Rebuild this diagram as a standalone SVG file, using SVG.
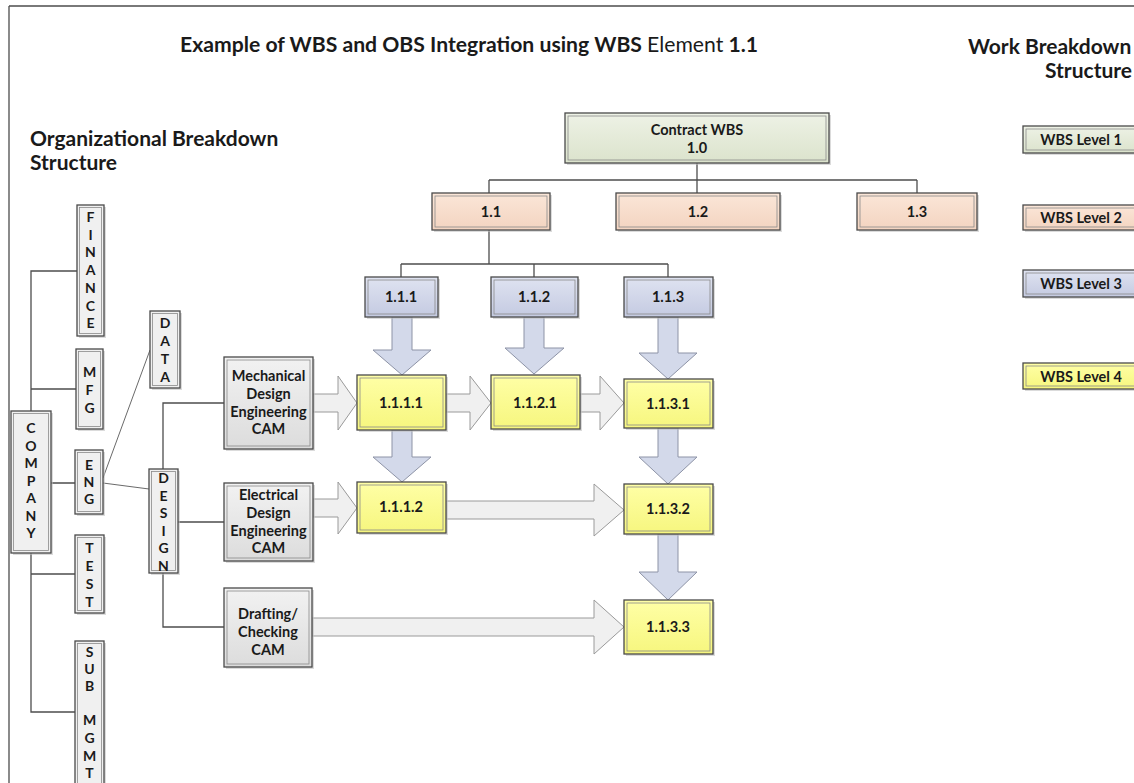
<svg xmlns="http://www.w3.org/2000/svg" width="1134" height="783" viewBox="0 0 1134 783">
<style>
text{font-family:Lato,"Liberation Sans",sans-serif;font-weight:bold;fill:#1a1a1a}
.h{font-size:21px}
.t{font-size:14.5px;text-anchor:middle}
.l{font-size:14px;text-anchor:middle}
.sh{fill:#bdbdbd;opacity:.55}
.bo{stroke:#4a4a4a;stroke-width:1.3}
.bi{fill:none;stroke:#8a8a8a;stroke-width:.8}
.ln{fill:none;stroke:#4d4d4d;stroke-width:1.3}
.thin{fill:none;stroke:#6a6a6a;stroke-width:1}
.da{fill:#d3d9ea;stroke:#8d93a6;stroke-width:1}
.ra{fill:#f0f0f0;stroke:#9a9a9a;stroke-width:1}
.g1{fill:url(#g1)}.g2{fill:url(#g2)}.g3{fill:url(#g3)}.g4{fill:url(#g4)}.gc{fill:url(#gc)}.go{fill:#f0f0f0}
</style>
<defs>
<linearGradient id="g1" x1="0" y1="0" x2="0" y2="1"><stop offset="0" stop-color="#eef2e6"/><stop offset="1" stop-color="#dbe3cc"/></linearGradient>
<linearGradient id="g2" x1="0" y1="0" x2="0" y2="1"><stop offset="0" stop-color="#fbe6d8"/><stop offset="1" stop-color="#f3d4c0"/></linearGradient>
<linearGradient id="g3" x1="0" y1="0" x2="0" y2="1"><stop offset="0" stop-color="#dfe3f1"/><stop offset="1" stop-color="#c4cae1"/></linearGradient>
<linearGradient id="g4" x1="0" y1="0" x2="0" y2="1"><stop offset="0" stop-color="#ffffa6"/><stop offset="1" stop-color="#f6f67e"/></linearGradient>
<linearGradient id="gc" x1="0" y1="0" x2="0" y2="1"><stop offset="0" stop-color="#f2f2f2"/><stop offset="1" stop-color="#dcdcdc"/></linearGradient>
</defs>

<!-- frame -->
<path class="ln" d="M9,6 H1134 M9,6 V783" stroke-width="1.6"/>

<!-- headings -->
<text class="h" x="180" y="52" font-size="19" textLength="578" lengthAdjust="spacingAndGlyphs">Example of WBS and OBS Integration using WBS <tspan font-weight="normal">Element</tspan> 1.1</text>
<text class="h" x="30" y="146">Organizational Breakdown</text>
<text class="h" x="30" y="170">Structure</text>
<text class="h" x="968" y="54">Work Breakdown</text>
<text class="h" x="1045" y="78">Structure</text>

<!-- connectors -->
<g id="connectors">
<path class="ln" d="M697,163 V180 M489,180 H917 M489,180 V193 M697,180 V193 M917,180 V193 M489,230 V264 M401,264 H668 M401,264 V277 M534,264 V277 M668,264 V277"/>
<path class="ln" d="M77,271 H31 V411 M31,389 H76 M51,483 H75 M31,553 V712 H75 M31,574 H75 M163,469 V403 H224 M178,522 H224 M163,573 V627 H224"/>
<path class="thin" d="M103,478 L150,350 M103,483 L149,489"/>
<!-- down arrows -->
<polygon class="da" points="392,317 412,317 412,350 431,350 402,375 373,350 392,350"/>
<polygon class="da" points="524,317 544,317 544,348 564,348 534,374 505,348 524,348"/>
<polygon class="da" points="658,317 678,317 678,353 697,353 668,379 639,353 658,353"/>
<polygon class="da" points="392,430 412,430 412,457 431,457 402,482 373,457 392,457"/>
<polygon class="da" points="658,428 678,428 678,457 697,457 668,484 639,457 658,457"/>
<polygon class="da" points="658,534 678,534 678,572 697,572 668,600 639,572 658,572"/>
<!-- right arrows -->
<polygon class="ra" points="313,394 338,394 338,376 357,403 338,430 338,412 313,412"/>
<polygon class="ra" points="446,394 470,394 470,376 491,403 470,430 470,412 446,412"/>
<polygon class="ra" points="580,394 600,394 600,376 624,403 600,430 600,412 580,412"/>
<polygon class="ra" points="313,499 338,499 338,482 357,508 338,534 338,517 313,517"/>
<polygon class="ra" points="446,501 594,501 594,484 624,510 594,536 594,519 446,519"/>
<polygon class="ra" points="312,618 594,618 594,600 624,627 594,654 594,636 312,636"/>
</g>

<!-- WBS nodes -->
<g id="n10"><rect class="sh" x="567" y="115" width="264" height="50"/><rect class="g1 bo" x="565" y="113" width="264" height="50"/><rect class="bi" x="568" y="116" width="258" height="44"/><text class="t" x="697" y="135">Contract WBS</text><text class="t" x="697" y="153">1.0</text></g>
<g id="n11"><rect class="sh" x="434" y="195" width="118" height="37"/><rect class="g2 bo" x="432" y="193" width="118" height="37"/><rect class="bi" x="435" y="196" width="112" height="31"/><text class="t" x="491" y="217">1.1</text></g>
<g id="n12"><rect class="sh" x="618" y="195" width="164" height="37"/><rect class="g2 bo" x="616" y="193" width="164" height="37"/><rect class="bi" x="619" y="196" width="158" height="31"/><text class="t" x="698" y="217">1.2</text></g>
<g id="n13"><rect class="sh" x="859" y="195" width="120" height="37"/><rect class="g2 bo" x="857" y="193" width="120" height="37"/><rect class="bi" x="860" y="196" width="114" height="31"/><text class="t" x="917" y="217">1.3</text></g>
<g id="n111"><rect class="sh" x="367" y="279" width="73" height="40"/><rect class="g3 bo" x="365" y="277" width="73" height="40"/><rect class="bi" x="368" y="280" width="67" height="34"/><text class="t" x="401" y="302">1.1.1</text></g>
<g id="n112"><rect class="sh" x="493" y="279" width="87" height="40"/><rect class="g3 bo" x="491" y="277" width="87" height="40"/><rect class="bi" x="494" y="280" width="81" height="34"/><text class="t" x="534" y="302">1.1.2</text></g>
<g id="n113"><rect class="sh" x="626" y="279" width="89" height="40"/><rect class="g3 bo" x="624" y="277" width="89" height="40"/><rect class="bi" x="627" y="280" width="83" height="34"/><text class="t" x="668" y="302">1.1.3</text></g>
<g id="n1111"><rect class="sh" x="359" y="377" width="89" height="55"/><rect class="g4 bo" x="357" y="375" width="89" height="55"/><rect class="bi" x="360" y="378" width="83" height="49"/><text class="t" x="401" y="408">1.1.1.1</text></g>
<g id="n1121"><rect class="sh" x="493" y="377" width="89" height="54"/><rect class="g4 bo" x="491" y="375" width="89" height="54"/><rect class="bi" x="494" y="378" width="83" height="48"/><text class="t" x="535" y="408">1.1.2.1</text></g>
<g id="n1131"><rect class="sh" x="626" y="381" width="89" height="49"/><rect class="g4 bo" x="624" y="379" width="89" height="49"/><rect class="bi" x="627" y="382" width="83" height="43"/><text class="t" x="668" y="409">1.1.3.1</text></g>
<g id="n1112"><rect class="sh" x="359" y="484" width="89" height="51"/><rect class="g4 bo" x="357" y="482" width="89" height="51"/><rect class="bi" x="360" y="485" width="83" height="45"/><text class="t" x="401" y="512">1.1.1.2</text></g>
<g id="n1132"><rect class="sh" x="626" y="486" width="89" height="50"/><rect class="g4 bo" x="624" y="484" width="89" height="50"/><rect class="bi" x="627" y="487" width="83" height="44"/><text class="t" x="668" y="514">1.1.3.2</text></g>
<g id="n1133"><rect class="sh" x="626" y="602" width="89" height="54"/><rect class="g4 bo" x="624" y="600" width="89" height="54"/><rect class="bi" x="627" y="603" width="83" height="48"/><text class="t" x="668" y="632">1.1.3.3</text></g>

<!-- CAM nodes -->
<g id="cam1"><rect class="sh" x="226" y="359" width="89" height="92"/><rect class="gc bo" x="224" y="357" width="89" height="92"/><rect class="bi" x="227" y="360" width="83" height="86"/><text class="t" x="268.5" y="381">Mechanical</text><text class="t" x="268.5" y="399">Design</text><text class="t" x="268.5" y="417">Engineering</text><text class="t" x="268.5" y="434">CAM</text></g>
<g id="cam2"><rect class="sh" x="226" y="485" width="89" height="78"/><rect class="gc bo" x="224" y="483" width="89" height="78"/><rect class="bi" x="227" y="486" width="83" height="72"/><text class="t" x="268.5" y="500">Electrical</text><text class="t" x="268.5" y="518">Design</text><text class="t" x="268.5" y="536">Engineering</text><text class="t" x="268.5" y="553">CAM</text></g>
<g id="cam3"><rect class="sh" x="226" y="590" width="88" height="79"/><rect class="gc bo" x="224" y="588" width="88" height="79"/><rect class="bi" x="227" y="591" width="82" height="73"/><text class="t" x="268" y="619">Drafting/</text><text class="t" x="268" y="637">Checking</text><text class="t" x="268" y="655">CAM</text></g>

<!-- OBS nodes -->
<g id="finance"><rect class="sh" x="79" y="207" width="27" height="131"/><rect class="go bo" x="77" y="205" width="27" height="131"/><rect class="bi" x="79.5" y="207.5" width="22" height="126"/><text class="l" x="90.5" y="222">F<tspan x="90.5" dy="17.7">I</tspan><tspan x="90.5" dy="17.7">N</tspan><tspan x="90.5" dy="17.7">A</tspan><tspan x="90.5" dy="17.7">N</tspan><tspan x="90.5" dy="17.7">C</tspan><tspan x="90.5" dy="17.7">E</tspan></text></g>
<g id="mfg"><rect class="sh" x="78" y="351" width="27" height="80"/><rect class="go bo" x="76" y="349" width="27" height="80"/><rect class="bi" x="78.5" y="351.5" width="22" height="75"/><text class="l" x="89.5" y="377">M<tspan x="89.5" dy="18">F</tspan><tspan x="89.5" dy="18">G</tspan></text></g>
<g id="data"><rect class="sh" x="152" y="313" width="30" height="77"/><rect class="go bo" x="150" y="311" width="30" height="77"/><rect class="bi" x="152.5" y="313.5" width="25" height="72"/><text class="l" x="165" y="328">D<tspan x="165" dy="18">A</tspan><tspan x="165" dy="18">T</tspan><tspan x="165" dy="18">A</tspan></text></g>
<g id="company"><rect class="sh" x="13" y="413" width="40" height="142"/><rect class="go bo" x="11" y="411" width="40" height="142"/><rect class="bi" x="13.5" y="413.5" width="35" height="137"/><text class="l" x="31" y="433">C<tspan x="31" dy="17.5">O</tspan><tspan x="31" dy="17.5">M</tspan><tspan x="31" dy="17.5">P</tspan><tspan x="31" dy="17.5">A</tspan><tspan x="31" dy="17.5">N</tspan><tspan x="31" dy="17.5">Y</tspan></text></g>
<g id="eng"><rect class="sh" x="77" y="452" width="28" height="64"/><rect class="go bo" x="75" y="450" width="28" height="64"/><rect class="bi" x="77.5" y="452.5" width="23" height="59"/><text class="l" x="89" y="470">E<tspan x="89" dy="17">N</tspan><tspan x="89" dy="17">G</tspan></text></g>
<g id="design"><rect class="sh" x="151" y="471" width="29" height="104"/><rect class="go bo" x="149" y="469" width="29" height="104"/><rect class="bi" x="151.5" y="471.5" width="24" height="99"/><text class="l" x="163.5" y="483">D<tspan x="163.5" dy="17.5">E</tspan><tspan x="163.5" dy="17.5">S</tspan><tspan x="163.5" dy="17.5">I</tspan><tspan x="163.5" dy="17.5">G</tspan><tspan x="163.5" dy="17.5">N</tspan></text></g>
<g id="test"><rect class="sh" x="77" y="537" width="29" height="78"/><rect class="go bo" x="75" y="535" width="29" height="78"/><rect class="bi" x="77.5" y="537.5" width="24" height="73"/><text class="l" x="89.5" y="553">T<tspan x="89.5" dy="18">E</tspan><tspan x="89.5" dy="18">S</tspan><tspan x="89.5" dy="18">T</tspan></text></g>
<g id="submgmt"><rect class="sh" x="77" y="643" width="29" height="150"/><rect class="go bo" x="75" y="641" width="29" height="150"/><rect class="bi" x="77.5" y="643.5" width="24" height="145"/><text class="l" x="89.5" y="657">S<tspan x="89.5" dy="17">U</tspan><tspan x="89.5" dy="17">B</tspan><tspan x="89.5" dy="34">M</tspan><tspan x="89.5" dy="18">G</tspan><tspan x="89.5" dy="18">M</tspan><tspan x="89.5" dy="17">T</tspan></text></g>

<!-- legend -->
<g id="leg1"><rect class="sh" x="1025" y="128" width="120" height="27"/><rect class="g1 bo" x="1023" y="126" width="120" height="27"/><rect class="bi" x="1026" y="129" width="114" height="21"/><text class="t" x="1081" y="145">WBS Level 1</text></g>
<g id="leg2"><rect class="sh" x="1025" y="207" width="120" height="25"/><rect class="g2 bo" x="1023" y="205" width="120" height="25"/><rect class="bi" x="1026" y="208" width="114" height="19"/><text class="t" x="1081" y="223">WBS Level 2</text></g>
<g id="leg3"><rect class="sh" x="1025" y="272" width="120" height="27"/><rect class="g3 bo" x="1023" y="270" width="120" height="27"/><rect class="bi" x="1026" y="273" width="114" height="21"/><text class="t" x="1081" y="289">WBS Level 3</text></g>
<g id="leg4"><rect class="sh" x="1025" y="365" width="120" height="26"/><rect class="g4 bo" x="1023" y="363" width="120" height="26"/><rect class="bi" x="1026" y="366" width="114" height="20"/><text class="t" x="1081" y="382">WBS Level 4</text></g>
</svg>
